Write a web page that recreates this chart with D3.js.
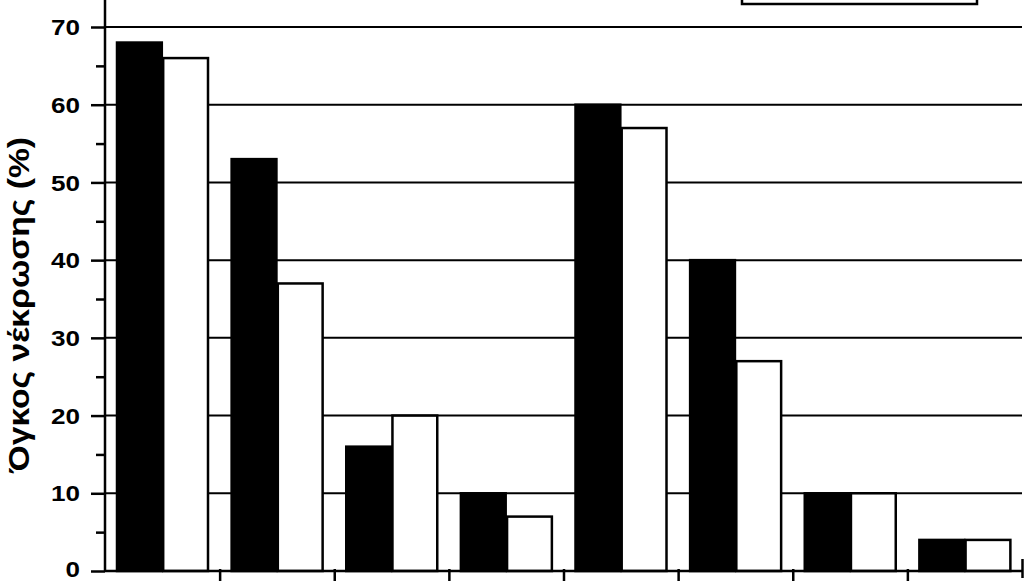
<!DOCTYPE html>
<html>
<head>
<meta charset="utf-8">
<script src="https://cdn.jsdelivr.net/npm/d3@7"></script>
<style>
  html, body { margin: 0; padding: 0; background: #fff; }
  svg { display: block; }
</style>
</head>
<body>
<svg id="canvas" width="1024" height="581"></svg>
<script>
// groups have no labels in the picture, so just number them
let groups = ['1', '2', '3', '4', '5', '6', '7', '8']
let series = ['black', 'white']
let blackValues = [68, 53, 16, 10, 60, 40, 10, 4]
let whiteValues = [66, 37, 20, 7, 57, 27, 10, 4]
let majorTicks = [0, 10, 20, 30, 40, 50, 60, 70]
let minorTicks = [5, 15, 25, 35, 45, 55, 65]
let yTitle = 'Όγκος νέκρωσης (%)'

let canvas = d3.select('#canvas')

let plotLeft = 105
let plotRight = 1022
let plotBottom = 571
let plotTop = 27

let yScale = d3.scaleLinear().domain([0, 70]).range([plotBottom, plotTop])
let xScale = d3.scaleBand().domain(groups).range([plotLeft, plotRight]).padding(0)
let innerScale = d3.scaleBand().domain(series).range([12, 103]).paddingInner(0.03)
let edgeScale = d3.scaleLinear().domain([0, groups.length]).range([plotLeft, plotRight])

// legend box, only its bottom is inside the picture
canvas.append('rect')
    .attr('x', 742)
    .attr('y', -30)
    .attr('width', 235)
    .attr('height', 34)
    .attr('fill', 'none')
    .attr('stroke', '#000')
    .attr('stroke-width', 2.5)

// gridlines
canvas.append('g')
    .selectAll('line')
    .data(majorTicks.filter((d) => d > 0))
    .enter()
    .append('line')
    .attr('x1', plotLeft)
    .attr('x2', plotRight)
    .attr('y1', (d) => yScale(d))
    .attr('y2', (d) => yScale(d))
    .attr('stroke', '#000')
    .attr('stroke-width', 2)

let rows = groups.map((g, i) => ({ group: g, black: blackValues[i], white: whiteValues[i] }))

let block = canvas.append('g')
    .selectAll('g')
    .data(rows)
    .enter()
    .append('g')
    .attr('transform', (d) => 'translate(' + xScale(d.group) + ',0)')

block.selectAll('rect')
    .data((d) => series.map((s) => ({ key: s, value: d[s] })))
    .enter()
    .append('rect')
    .attr('x', (d) => innerScale(d.key))
    .attr('y', (d) => yScale(d.value))
    .attr('width', innerScale.bandwidth())
    .attr('height', (d) => plotBottom - yScale(d.value))
    .attr('fill', (d) => d.key === 'black' ? '#000' : '#fff')
    .attr('stroke', '#000')
    .attr('stroke-width', 2.5)

// y axis: major ticks with labels, minor ticks without
let yAxis = canvas.append('g')
    .attr('transform', 'translate(' + plotLeft + ',0)')
    .call(d3.axisLeft(yScale).tickValues(majorTicks).tickSize(14).tickFormat(d3.format('d')))
yAxis.select('.domain').remove()
yAxis.selectAll('line').attr('stroke-width', 2.5)
yAxis.selectAll('text')
    .attr('x', -25)
    .attr('dy', (d) => d === 0 ? '0.25em' : '0.35em')
    .attr('font-family', 'Liberation Sans, Arial, sans-serif')
    .attr('font-weight', 'bold')
    .attr('font-size', 22)
    .attr('fill', '#000')
    .attr('textLength', (d) => String(d).length * 14.5)
    .attr('lengthAdjust', 'spacingAndGlyphs')

let yMinor = canvas.append('g')
    .attr('transform', 'translate(' + plotLeft + ',0)')
    .call(d3.axisLeft(yScale).tickValues(minorTicks).tickSize(9).tickFormat(''))
yMinor.select('.domain').remove()
yMinor.selectAll('line').attr('stroke-width', 2.5)

canvas.append('line')
    .attr('x1', plotLeft).attr('x2', plotLeft)
    .attr('y1', 0).attr('y2', plotBottom)
    .attr('stroke', '#000')
    .attr('stroke-width', 2.5)

// x axis: ticks at group edges, no labels
let xAxis = canvas.append('g')
    .attr('transform', 'translate(0,' + plotBottom + ')')
    .call(d3.axisBottom(edgeScale).tickValues(d3.range(1, groups.length + 1)).tickSize(10).tickFormat(''))
xAxis.select('.domain')
    .attr('d', 'M' + plotLeft + ',0H' + plotRight)
    .attr('stroke-width', 2.5)
xAxis.selectAll('.tick line')
    .attr('y1', -2)
    .attr('stroke-width', 2.5)
xAxis.selectAll('.tick line')
    .filter((d) => d === groups.length)
    .attr('y1', -12)
    .attr('y2', 7)

canvas.append('text')
    .attr('transform', 'translate(29,305) rotate(-90)')
    .attr('text-anchor', 'middle')
    .attr('font-family', 'Liberation Sans, Arial, sans-serif')
    .attr('font-weight', 'bold')
    .attr('font-size', 29)
    .attr('textLength', 336)
    .attr('lengthAdjust', 'spacingAndGlyphs')
    .attr('fill', '#000')
    .text(yTitle)
</script>
</body>
</html>
